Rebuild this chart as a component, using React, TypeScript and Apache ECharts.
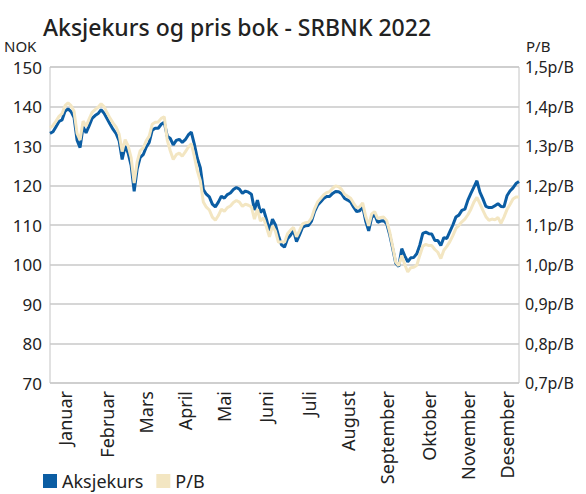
import React, { useEffect, useRef } from "react";
import * as echarts from "echarts";

const title = "Aksjekurs og pris bok - SRBNK 2022";
const monthLabels = ["Januar", "Februar", "Mars", "April", "Mai", "Juni", "Juli", "August", "September", "Oktober", "November", "Desember"];
const monthLabelIndex = [5, 19, 32, 45, 58, 72, 86, 99, 112, 126, 139, 152];

const aksjekurs = [
  133.2, 133.6, 134.9, 136.2, 136.6, 138.8, 139.4, 138.7, 137.2, 131.5,
  129.6, 134.9, 133.3, 135.1, 137.0, 137.7, 138.2, 139.2, 138.3, 136.9,
  135.5, 134.2, 133.1, 131.3, 126.6, 130.0, 128.2, 125.0, 118.5, 124.2,
  127.1, 127.8, 129.7, 130.9, 134.0, 134.5, 134.5, 135.5, 136.0, 132.5,
  131.9, 130.3, 131.4, 131.7, 130.9, 131.6, 132.8, 133.5, 130.5, 126.9,
  124.5, 119.0, 117.8, 117.1, 115.3, 114.6, 115.8, 117.3, 116.8, 117.7,
  118.1, 119.0, 119.5, 119.1, 118.0, 118.6, 118.3, 117.8, 113.8, 116.3,
  113.2, 114.0, 111.4, 108.5, 111.5, 110.0, 107.3, 105.0, 104.4, 106.5,
  107.4, 108.6, 105.8, 107.5, 109.4, 109.8, 109.9, 111.0, 113.4, 115.0,
  115.8, 116.7, 117.2, 117.2, 118.0, 118.5, 118.4, 117.9, 116.7, 116.3,
  115.8, 114.5, 113.4, 113.6, 114.7, 111.0, 108.5, 111.9, 112.6, 110.7,
  111.0, 111.1, 110.3, 107.5, 104.0, 100.3, 99.5, 104.0, 102.2, 100.7,
  101.7, 101.8, 102.7, 104.9, 107.9, 108.2, 107.8, 107.7, 106.1, 106.1,
  104.8, 106.8, 106.6, 108.3, 110.0, 112.0, 112.5, 113.7, 114.0, 116.3,
  118.0, 119.6, 121.2, 118.3, 116.6, 114.7, 114.4, 114.4, 114.9, 115.4,
  114.7, 114.6, 117.4, 118.6, 119.4, 120.5, 121.0,
];

const prisBok = [
  1.346, 1.352, 1.363, 1.375, 1.382, 1.402, 1.409, 1.402, 1.388, 1.332,
  1.315, 1.363, 1.350, 1.368, 1.385, 1.392, 1.398, 1.407, 1.399, 1.384,
  1.370, 1.358, 1.348, 1.330, 1.286, 1.316, 1.300, 1.270, 1.206, 1.260,
  1.288, 1.295, 1.313, 1.325, 1.355, 1.360, 1.361, 1.370, 1.374, 1.315,
  1.288, 1.266, 1.278, 1.282, 1.274, 1.285, 1.297, 1.306, 1.274, 1.237,
  1.212, 1.158, 1.145, 1.138, 1.120, 1.112, 1.124, 1.140, 1.135, 1.144,
  1.148, 1.157, 1.162, 1.158, 1.147, 1.153, 1.150, 1.146, 1.115, 1.140,
  1.110, 1.118, 1.095, 1.070, 1.098, 1.084, 1.056, 1.058, 1.056, 1.078,
  1.087, 1.094, 1.070, 1.086, 1.103, 1.106, 1.107, 1.118, 1.141, 1.158,
  1.167, 1.176, 1.182, 1.184, 1.193, 1.199, 1.197, 1.190, 1.178, 1.173,
  1.168, 1.155, 1.144, 1.146, 1.156, 1.122, 1.098, 1.128, 1.134, 1.116,
  1.119, 1.120, 1.111, 1.082, 1.045, 1.006, 0.997, 1.023, 1.000, 0.981,
  0.992, 0.993, 0.998, 1.023, 1.046, 1.051, 1.048, 1.048, 1.038, 1.031,
  1.015, 1.036, 1.046, 1.058, 1.073, 1.091, 1.099, 1.108, 1.115, 1.126,
  1.140, 1.158, 1.170, 1.154, 1.137, 1.121, 1.112, 1.115, 1.113, 1.119,
  1.104, 1.120, 1.139, 1.152, 1.166, 1.171, 1.171,
];

const days = aksjekurs.map((_, i) => String(i));

const FONT = "Noto Sans";
const BLUE = "#0b5da3";
const BEIGE = "#f3e6c2";

export default function App() {
  const ref = useRef<HTMLDivElement>(null);
  useEffect(() => {
    document.body.style.margin = "0";
    if (!ref.current) return;
    const chart = echarts.init(ref.current, null, { renderer: "svg" });
    chart.setOption({
      animation: false,
      textStyle: { fontFamily: FONT },
      title: {
        text: title,
        left: 38,
        top: 10,
        textStyle: { fontFamily: FONT, fontSize: 23, fontWeight: 500, color: "#222" },
      },
      graphic: [
        { type: "text", left: 4, top: 38, style: { text: "NOK", font: `15px "${FONT}"`, fill: "#222" } },
        { type: "text", left: 526, top: 38, style: { text: "P/B", font: `15px "${FONT}"`, fill: "#222" } },
      ],
      legend: {
        left: 43,
        top: 472,
        padding: 0,
        icon: "rect",
        itemWidth: 14,
        itemHeight: 14,
        itemGap: 13,
        textStyle: { fontFamily: FONT, fontSize: 18, color: "#222" },
        data: ["Aksjekurs", "P/B"],
      },
      grid: {
        left: 50,
        right: 67,
        top: 67,
        bottom: 111,
        show: true,
        borderColor: "#c4c4c4",
        borderWidth: 1,
      },
      xAxis: {
        type: "category",
        data: days,
        boundaryGap: false,
        axisLine: { show: false },
        axisTick: { show: false },
        splitLine: { show: false },
        axisLabel: {
          rotate: 90,
          margin: 8,
          fontSize: 18,
          color: "#222",
          interval: (idx: number) => monthLabelIndex.includes(idx),
          formatter: (_v: string, idx: number) => {
            const k = monthLabelIndex.indexOf(idx);
            return k >= 0 ? monthLabels[k] : "";
          },
        },
      },
      yAxis: [
        {
          type: "value",
          min: 70,
          max: 150,
          interval: 10,
          position: "left",
          axisLine: { show: false },
          axisTick: { show: false },
          splitLine: { lineStyle: { color: "#c8c8c8", width: 1.5 } },
          axisLabel: { fontSize: 17, color: "#222", margin: 8 },
        },
        {
          type: "value",
          min: 0.7,
          max: 1.5,
          interval: 0.1,
          position: "right",
          axisLine: { show: false },
          axisTick: { show: false },
          splitLine: { show: false },
          axisLabel: {
            fontSize: 16,
            color: "#222",
            margin: 6,
            formatter: (v: number) => v.toFixed(1).replace(".", ",") + "p/B",
          },
        },
      ],
      series: [
        {
          name: "Aksjekurs",
          type: "line",
          data: aksjekurs,
          yAxisIndex: 0,
          showSymbol: false,
          symbol: "none",
          lineStyle: { color: BLUE, width: 3 },
          itemStyle: { color: BLUE },
        },
        {
          name: "P/B",
          type: "line",
          data: prisBok,
          yAxisIndex: 1,
          showSymbol: false,
          symbol: "none",
          lineStyle: { color: BEIGE, width: 3 },
          itemStyle: { color: BEIGE },
        },
      ],
    });
    return () => chart.dispose();
  }, []);
  return <div ref={ref} style={{ width: 586, height: 494 }} />;
}
